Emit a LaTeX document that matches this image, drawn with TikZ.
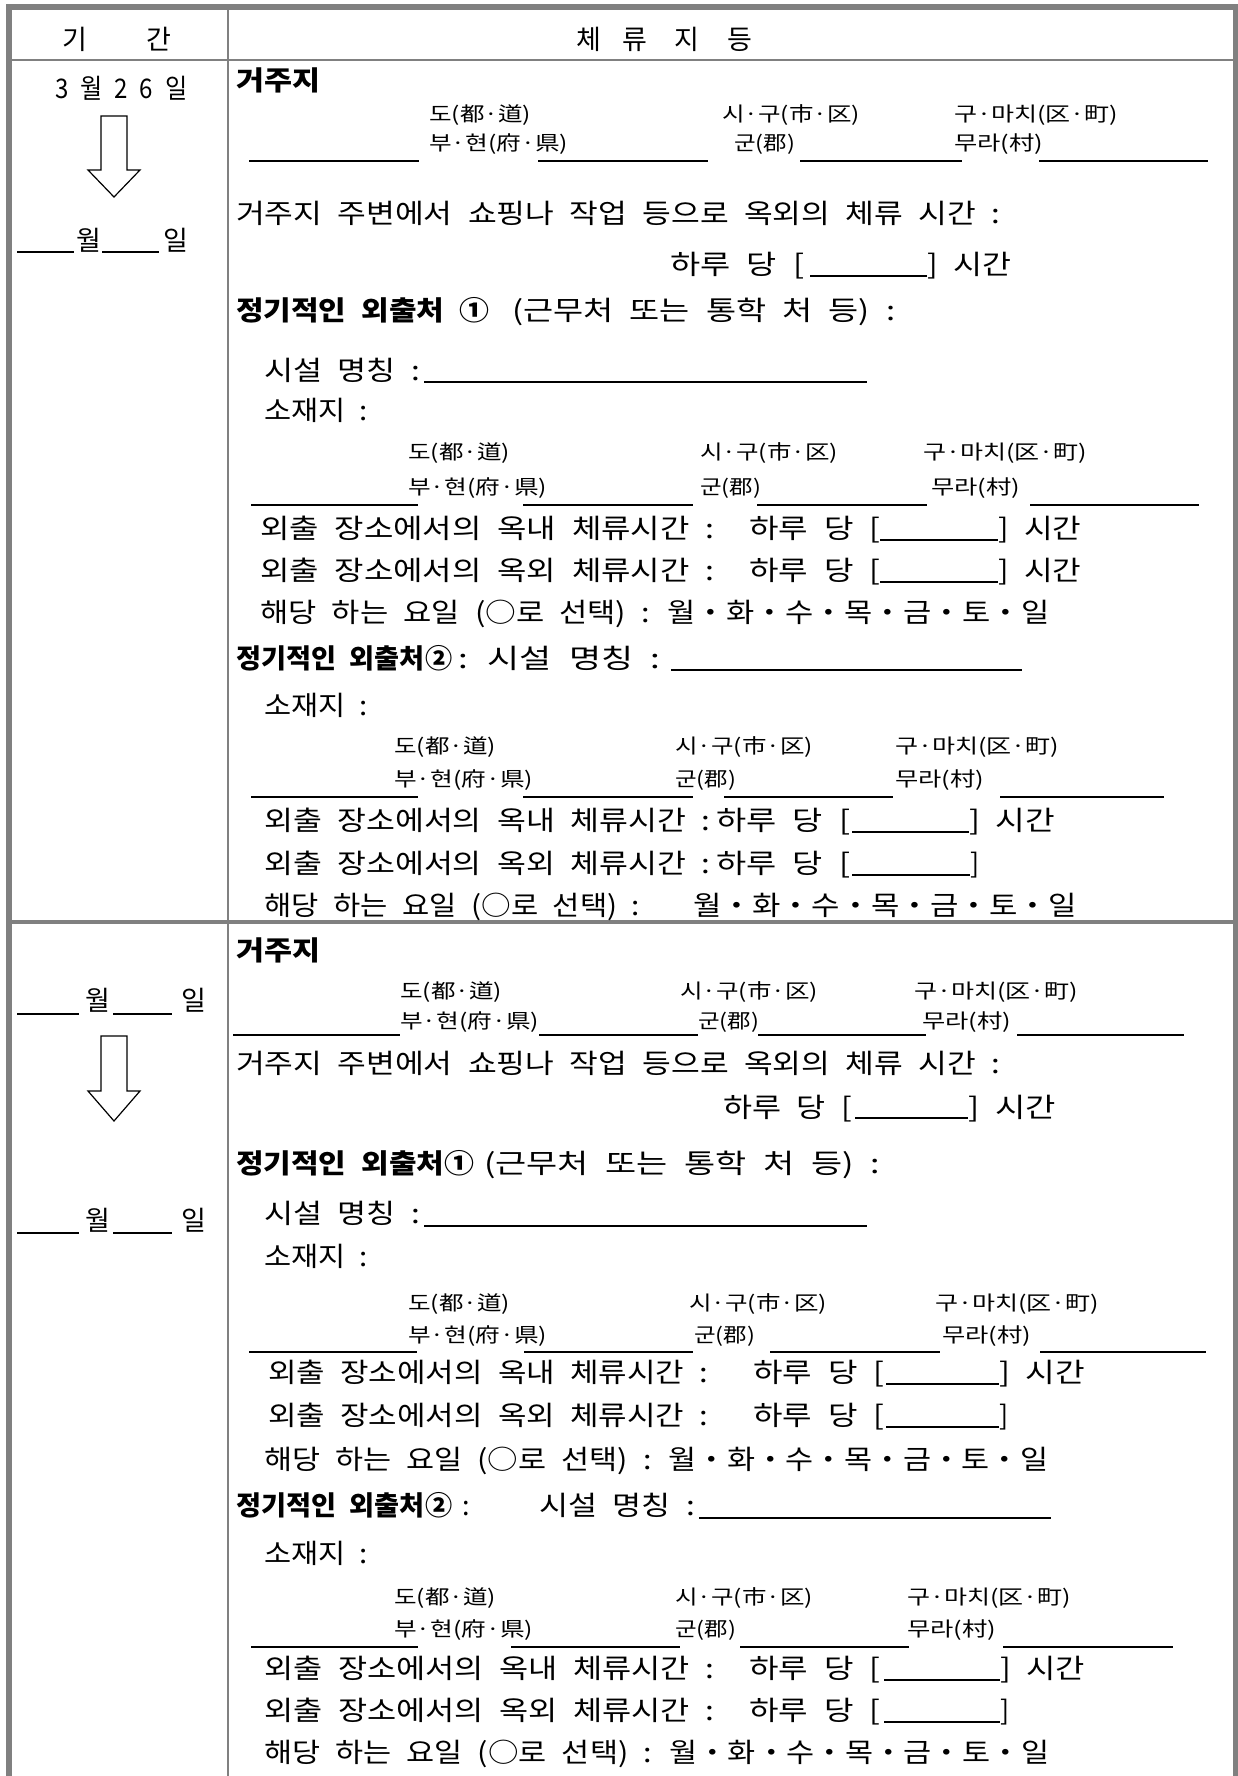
\documentclass[tikz,border=0pt]{standalone}
\usepackage{fontspec}
\usepackage{graphicx}
\setmainfont{Noto Sans CJK KR}[WordSpace=2.2]
\definecolor{frame}{RGB}{128,128,128}
\newcounter{tn}
\tikzset{
  txt/.style={anchor=base west, inner sep=0pt, yshift=-10pt, font=\fontsize{27}{32}\selectfont},
  btxt/.style={txt, font=\fontsize{27}{32}\selectfont\bfseries},
  lbl/.style={anchor=base west, inner sep=0pt, yshift=-7.5pt, font=\fontsize{20}{24}\selectfont},
  uline/.style={line width=2.4pt, black},
  rule/.style={draw=frame, line width=2pt},
  outer/.style={draw=frame, line width=6pt},
  arrowbox/.style={draw=black, fill=white, line width=1.2pt, line join=miter}
}
\newcommand{\Tw}[5][txt]{\stepcounter{tn}\node[#1] (t\arabic{tn}) at (#2,#3) {\resizebox{#4pt}{\height}{#5}};}
\newcommand{\Tn}[4][txt]{\stepcounter{tn}\node[#1] (t\arabic{tn}) at (#2,#3) {#4};}
% address labels: #1,#2,#3 = x of first row labels, #4 = y first row,
% #5,#6,#7 = x of second row labels, #8 = y second row
\newcommand{\Addr}[8]{%
  \Tw[lbl]{#1}{#4}{102}{도(都·道)}\Tw[lbl]{#2}{#4}{138}{시·구(市·区)}\Tw[lbl]{#3}{#4}{164}{구·마치(区·町)}%
  \Tw[lbl]{#5}{#8}{139}{부·현(府·県)}\Tw[lbl]{#6}{#8}{61}{군(郡)}\Tw[lbl]{#7}{#8}{89}{무라(村)}%
}
\begin{document}
\begin{tikzpicture}[x=1pt,y=-1pt]
\useasboundingbox (0,0) rectangle (1237,1776);
\fill[white] (0,0) rectangle (1237,1776);
% frame
\draw[outer] (9,1790) -- (9,7) -- (1245,7);
\draw[draw=frame, line width=5pt] (1235.5,7) -- (1235.5,1790);
\draw[rule] (12,60) -- (1233,60);
\draw[rule] (228,10) -- (228,1790);
\draw[draw=frame, line width=3.5pt] (12,922) -- (1233,922);
% header
\Tn{62}{40}{기}\Tn{146}{40}{간}
\Tn{576}{40}{체}\Tn{622}{40}{류}\Tn{674}{40}{지}\Tn{727}{40}{등}
% ---------- section 1 left
\Tw{55}{89}{132}{3 월 2 6 일}
\draw[arrowbox] (101,116) -- (127,116) -- (127,170) -- (140,170) -- (114,197) -- (88,170) -- (101,170) -- cycle;
\draw[uline] (17,252) -- (74,252); \Tn{76}{241}{월}
\draw[uline] (102,252) -- (159,252); \Tn{163}{241}{일}
% ---------- section 1 right
\Tw[btxt]{236}{81}{84}{거주지}
\Addr{429}{722}{954}{114}{429}{734}{954}{143}
\draw[uline] (249,161) -- (419,161); \draw[uline] (538,161) -- (708,161);
\draw[uline] (800,161) -- (962,161); \draw[uline] (1039,161) -- (1208,161);
\Tw{236}{214}{764}{거주지 주변에서 쇼핑나 작업 등으로 옥외의 체류 시간 :}
\Tw{670}{265}{134}{하루 당 [}\draw[uline] (810,276) -- (927,276);\Tw{927}{265}{84}{] 시간}
\Tw[btxt]{236}{310}{253}{정기적인 외출처 ①}\Tw{512}{310}{383}{(근무처 또는 통학 처 등) :}
\Tw{264}{370}{156}{시설 명칭 :}\draw[uline] (424,382) -- (867,382);
\Tw{264}{410}{104}{소재지 :}
\Addr{408}{700}{923}{452}{408}{700}{931}{487}
\draw[uline] (251,505) -- (418,505); \draw[uline] (523,505) -- (693,505);
\draw[uline] (757,505) -- (927,505); \draw[uline] (1030,505) -- (1199,505);
\Tw{260}{528}{454}{외출 장소에서의 옥내 체류시간 :}\Tw{749}{528}{131}{하루 당 [}\draw[uline] (880,540) -- (998,540);\Tw{998}{528}{83}{] 시간}
\Tw{260}{570}{454}{외출 장소에서의 옥외 체류시간 :}\Tw{749}{570}{131}{하루 당 [}\draw[uline] (880,582) -- (998,582);\Tw{998}{570}{83}{] 시간}
\Tw{260}{612}{789}{해당 하는 요일 (○로 선택) : 월・화・수・목・금・토・일}
\Tw[btxt]{236}{658}{216}{정기적인 외출처②}\Tw{458}{658}{202}{: 시설 명칭 :}\draw[uline] (671,670) -- (1022,670);
\Tw{264}{705}{104}{소재지 :}
\Addr{394}{675}{895}{746}{394}{675}{895}{779}
\draw[uline] (251,797) -- (418,797); \draw[uline] (523,797) -- (693,797);
\draw[uline] (724,797) -- (893,797); \draw[uline] (1000,797) -- (1164,797);
\Tw{264}{820}{446}{외출 장소에서의 옥내 체류시간 :}\Tw{716}{820}{134}{하루 당 [}\draw[uline] (852,832) -- (969,832);\Tw{969}{820}{86}{] 시간}
\Tw{264}{863}{446}{외출 장소에서의 옥외 체류시간 :}\Tw{716}{863}{134}{하루 당 [}\draw[uline] (852,875) -- (970,875);\Tn{970}{863}{]}
\Tw{264}{905}{376}{해당 하는 요일 (○로 선택) :}\Tw{693}{905}{384}{월・화・수・목・금・토・일}
% ---------- section 2 left
\draw[uline] (17,1014) -- (79,1014); \Tn{85}{1000}{월}
\draw[uline] (113,1014) -- (172,1014); \Tn{181}{1000}{일}
\draw[arrowbox] (101,1036) -- (127,1036) -- (127,1091) -- (140,1091) -- (114,1121) -- (88,1091) -- (101,1091) -- cycle;
\draw[uline] (17,1233) -- (79,1233); \Tn{85}{1220}{월}
\draw[uline] (113,1233) -- (172,1233); \Tn{181}{1220}{일}
% ---------- section 2 right
\Tw[btxt]{236}{950}{84}{거주지}
\Addr{400}{680}{914}{991}{400}{698}{922}{1021}
\draw[uline] (233,1035) -- (400,1035); \draw[uline] (539,1035) -- (698,1035);
\draw[uline] (758,1035) -- (926,1035); \draw[uline] (1017,1035) -- (1184,1035);
\Tw{236}{1063}{764}{거주지 주변에서 쇼핑나 작업 등으로 옥외의 체류 시간 :}
\Tw{723}{1107}{129}{하루 당 [}\draw[uline] (855,1118) -- (968,1118);\Tw{968}{1107}{88}{] 시간}
\Tw[btxt]{236}{1163}{238}{정기적인 외출처①}\Tw{484}{1163}{396}{(근무처 또는 통학 처 등) :}
\Tw{264}{1213}{156}{시설 명칭 :}\draw[uline] (424,1226) -- (867,1226);
\Tw{264}{1256}{104}{소재지 :}
\Addr{408}{689}{935}{1303}{408}{694}{942}{1335}
\draw[uline] (249,1352) -- (417,1352); \draw[uline] (524,1352) -- (693,1352);
\draw[uline] (770,1352) -- (940,1352); \draw[uline] (1040,1352) -- (1206,1352);
\Tw{268}{1372}{440}{외출 장소에서의 옥내 체류시간 :}\Tw{753}{1372}{131}{하루 당 [}\draw[uline] (886,1384) -- (999,1384);\Tw{999}{1372}{86}{] 시간}
\Tw{268}{1415}{440}{외출 장소에서의 옥외 체류시간 :}\Tw{753}{1415}{131}{하루 당 [}\draw[uline] (886,1427) -- (999,1427);\Tn{999}{1415}{]}
\Tw{264}{1459}{784}{해당 하는 요일 (○로 선택) : 월・화・수・목・금・토・일}
\Tw[btxt]{236}{1505}{216}{정기적인 외출처②}\Tn{462}{1505}{:}\Tw{539}{1505}{156}{시설 명칭 :}\draw[uline] (699,1518) -- (1051,1518);
\Tw{264}{1553}{104}{소재지 :}
\Addr{394}{675}{907}{1597}{394}{675}{907}{1629}
\draw[uline] (251,1647) -- (418,1647); \draw[uline] (511,1647) -- (680,1647);
\draw[uline] (740,1647) -- (909,1647); \draw[uline] (1003,1647) -- (1173,1647);
\Tw{264}{1668}{450}{외출 장소에서의 옥내 체류시간 :}\Tw{749}{1668}{131}{하루 당 [}\draw[uline] (884,1680) -- (1000,1680);\Tw{1000}{1668}{85}{] 시간}
\Tw{264}{1710}{450}{외출 장소에서의 옥외 체류시간 :}\Tw{749}{1710}{131}{하루 당 [}\draw[uline] (884,1722) -- (1000,1722);\Tn{1000}{1710}{]}
\Tw{264}{1752}{785}{해당 하는 요일 (○로 선택) : 월・화・수・목・금・토・일}
\end{tikzpicture}
\end{document}
